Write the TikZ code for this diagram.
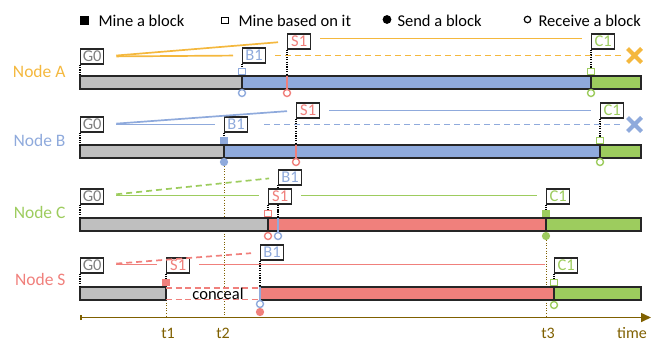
\documentclass[tikz,border=0pt]{standalone}
\usepackage{fontspec}
\setmainfont{Carlito}
\usetikzlibrary{arrows.meta,shapes.misc}
\definecolor{cA}{RGB}{244,184,62}
\definecolor{cB}{RGB}{143,170,220}
\definecolor{cC}{RGB}{157,204,94}
\definecolor{cS}{RGB}{240,128,124}
\definecolor{cG}{RGB}{191,191,191}
\definecolor{cGt}{RGB}{128,128,128}
\definecolor{cT}{RGB}{127,96,0}
\definecolor{edge}{RGB}{38,38,38}
\pgfdeclarelayer{under}
\pgfsetlayers{under,main}
\tikzset{
  blk/.style={draw=edge, line width=1.3pt, fill=white, minimum width=23pt,
    minimum height=15pt, inner sep=0pt, anchor=west, font=\fontsize{16.5}{16.5}\selectfont},
  nlab/.style={anchor=east, font=\fontsize{17.5}{17.5}\selectfont},
  osq/.style={rectangle, draw=#1, fill=white, line width=1.4pt, minimum size=6.5pt, inner sep=0pt},
  fsq/.style={rectangle, draw=#1, fill=#1, line width=1.2pt, minimum size=6.5pt, inner sep=0pt},
  ocirc/.style={circle, draw=#1, fill=white, line width=1.4pt, minimum size=7pt, inner sep=0pt},
  fcirc/.style={circle, draw=#1, fill=#1, line width=1.2pt, minimum size=7pt, inner sep=0pt},
  link/.style={draw=#1, line width=1.7pt, shorten <=9pt, shorten >=9pt},
  glink/.style={link=#1, shorten <=12pt},
  dlink/.style={link=#1, dash pattern=on 6pt off 4pt},
  tie/.style={draw=black, line width=1.2pt, dash pattern=on 1.2pt off 1.2pt},
  recv/.style={draw=#1, line width=2pt},
  barline/.style={draw=edge, line width=1.5pt},
  tline/.style={draw=cT, line width=1pt, dash pattern=on 1pt off 1.6pt},
  xmark/.style={cross out, draw=#1, line width=4pt, minimum size=10pt, inner sep=0pt},
  tlab/.style={text=cT, font=\fontsize{16}{16}\selectfont},
  leg/.style={anchor=west, font=\fontsize{16.5}{16.5}\selectfont},
}
\begin{document}
\begin{tikzpicture}[x=1pt, y=-1pt]
\useasboundingbox (0,0) rectangle (655,341);

% ---------- legend ----------
\node[fsq=black, minimum size=7.5pt] (lg1) at (84.5,20.5) {};
\node[leg] (lt1) at (95,20.5) {Mine a block};
\node[osq=black, minimum size=6.5pt, line width=1.2pt] (lg2) at (225,20.5) {};
\node[leg] (lt2) at (235,20.5) {Mine based on it};
\node[fcirc=black, minimum size=7.5pt] (lg3) at (387,19.5) {};
\node[leg] (lt3) at (394,20.5) {Send a block};
\node[ocirc=black, minimum size=6.5pt, line width=1.2pt] (lg4) at (527.5,19.5) {};
\node[leg] (lt4) at (535,20.5) {Receive a block};

% ---------- Node A ----------
\node[nlab, text=cA] (labA) at (69,71) {Node A};
\fill[cG] (80,76) rectangle (242,89);
\fill[cB] (242,76) rectangle (591,89);
\fill[cC] (591,76) rectangle (641,89);
\draw[barline] (80,76) rectangle (641,89) (242,76) -- (242,89) (591,76) -- (591,89);
\coordinate (a0) at (80,76);
\coordinate (a2) at (287,76);
\node[osq=cB] (a-m1) at (242,71.5) {};
\node[ocirc=cB] (a-r1) at (242,93) {};
\node[ocirc=cS] (a-r2) at (287,93) {};
\draw[recv=cS] (a2) -- (a-r2.north);
\node[osq=cC] (a-m3) at (591,71.5) {};
\node[ocirc=cC] (a-r3) at (591,93) {};
\node[blk, text=cGt] (a-g0) at (80,56.5) {G0};
\node[blk, text=cB] (a-b1) at (242,55.5) {B1};
\node[blk, text=cS] (a-s1) at (287,41.5) {S1};
\node[blk, text=cC] (a-c1) at (591,41.5) {C1};
\node[xmark=cA] (a-x) at (634.5,55.5) {};
\draw[tie] (a-g0.south west) -- (a0);
\draw[tie] (a-b1.south west) -- (a-m1.north);
\draw[tie] (a-s1.south west) -- (a2);
\draw[tie] (a-c1.south west) -- (a-m3.north);
\draw[glink=cA] (a-g0.east) -- (a-b1.west);
\draw[glink=cA] (a-g0.east) -- (a-s1.west);
\draw[link=cA] ([yshift=3pt]a-s1.east) -- ([yshift=3pt]a-c1.west);
\draw[dlink=cA, shorten >=4pt] (a-b1.east) -- (a-x.west);

% ---------- Node B ----------
\node[nlab, text=cB] (labB) at (69,140) {Node B};
\fill[cG] (80,145) rectangle (224,158);
\fill[cB] (224,145) rectangle (600,158);
\fill[cC] (600,145) rectangle (641,158);
\draw[barline] (80,145) rectangle (641,158) (224,145) -- (224,158) (600,145) -- (600,158);
\coordinate (b0) at (80,145);
\coordinate (b2) at (296,145);
\node[fsq=cB] (b-m1) at (224,140.5) {};
\node[fcirc=cB] (b-f1) at (224,162) {};
\node[ocirc=cS] (b-r2) at (296,162) {};
\draw[recv=cS] (b2) -- (b-r2.north);
\node[osq=cC] (b-m3) at (600,140.5) {};
\node[ocirc=cC] (b-r3) at (600,162) {};
\node[blk, text=cGt] (b-g0) at (80,124.5) {G0};
\node[blk, text=cB] (b-b1) at (224,124.5) {B1};
\node[blk, text=cS] (b-s1) at (296,110.5) {S1};
\node[blk, text=cC] (b-c1) at (600,110.5) {C1};
\node[xmark=cB] (b-x) at (634.5,124.5) {};
\draw[tie] (b-g0.south west) -- (b0);
\draw[tie] (b-b1.south west) -- (b-m1.north);
\draw[tie] (b-s1.south west) -- (b2);
\draw[tie] (b-c1.south west) -- (b-m3.north);
\draw[glink=cB] (b-g0.east) -- (b-b1.west);
\draw[glink=cB] (b-g0.east) -- (b-s1.west);
\draw[link=cB] (b-s1.east) -- (b-c1.west);
\draw[dlink=cB, shorten <=16pt, shorten >=4pt] (b-b1.east) -- (b-x.west);

% ---------- Node C ----------
\node[nlab, text=cC] (labC) at (69,212) {Node C};
\fill[cG] (80,218) rectangle (268,231);
\fill[cS] (268,218) rectangle (546,231);
\fill[cC] (546,218) rectangle (641,231);
\draw[barline] (80,218) rectangle (641,231) (268,218) -- (268,231) (546,218) -- (546,231);
\coordinate (c0) at (80,218);
\coordinate (c2) at (278,218);
\node[osq=cS] (c-m1) at (268,213.5) {};
\node[ocirc=cS] (c-r1) at (268,236) {};
\node[ocirc=cB] (c-r2) at (278,236) {};
\draw[recv=cB] (c2) -- (c-r2.north);
\node[fsq=cC] (c-m3) at (546,213.5) {};
\node[fcirc=cC] (c-f3) at (546,236) {};
\begin{pgfonlayer}{under}
  \draw[tie] (278,185) -- (c2);
\end{pgfonlayer}
\node[blk, text=cGt] (c-g0) at (80,196.5) {G0};
\node[blk, text=cB] (c-b1) at (278,177.5) {B1};
\node[blk, text=cS] (c-s1) at (268,196.5) {S1};
\node[blk, text=cC] (c-c1) at (546,196.5) {C1};
\draw[tie] (c-g0.south west) -- (c0);
\draw[tie] (c-s1.south west) -- (c-m1.north);
\draw[tie] (c-s1.south -| c2) -- (c2);
\draw[tie] (c-c1.south west) -- (c-m3.north);
\draw[glink=cC] ([yshift=1pt]c-g0.east) -- ([yshift=1pt]c-s1.west);
\draw[glink=cC, dash pattern=on 6pt off 4pt] ([yshift=1pt]c-g0.east) -- (c-b1.west);
\draw[link=cC] ([yshift=1pt]c-s1.east) -- ([yshift=1pt]c-c1.west);

% ---------- Node S ----------
\node[nlab, text=cS] (labS) at (69,279.5) {Node S};
\fill[cG] (80,287) rectangle (166,300);
\fill[cS] (260,287) rectangle (554,300);
\fill[cC] (554,287) rectangle (641,300);
\draw[barline] (80,287) rectangle (166,300);
\draw[barline] (260,287) rectangle (641,300) (554,287) -- (554,300);
\draw[cS, line width=1.6pt, dash pattern=on 6pt off 3.5pt] (166,288) -- (260,288) (166,299.5) -- (260,299.5);
\node[font=\fontsize{16.5}{16.5}\selectfont] (conceal) at (218,293.5) {conceal};
\coordinate (s0) at (80,287);
\coordinate (s1b) at (166,300);
\coordinate (s2) at (260,287);
\node[fsq=cS] (s-m1) at (166,282.5) {};
\node[ocirc=cB] (s-r2) at (260,304) {};
\draw[recv=cB] (s2) -- (s-r2.north);
\node[fcirc=cS] (s-f2) at (260,312) {};
\node[osq=cC] (s-m3) at (554,282.5) {};
\node[ocirc=cC] (s-r3) at (554,305) {};
\node[blk, text=cGt] (s-g0) at (80,265.5) {G0};
\node[blk, text=cS] (s-s1) at (166,265.5) {S1};
\node[blk, text=cB] (s-b1) at (260,252.5) {B1};
\node[blk, text=cC] (s-c1) at (554,265.5) {C1};
\draw[tie] (s-g0.south west) -- (s0);
\draw[tie] (s-s1.south west) -- (s-m1.north);
\draw[tie] (s-b1.south west) -- (s2);
\draw[tie] (s-c1.south west) -- (s-m3.north);
\draw[glink=cS] ([yshift=1pt]s-g0.east) -- ([yshift=1pt]s-s1.west);
\draw[glink=cS, dash pattern=on 6pt off 4pt] ([yshift=1pt]s-g0.east) -- (s-b1.west);
\draw[link=cS] ([yshift=1pt]s-s1.east) -- ([yshift=1pt]s-c1.west);

% ---------- time axis ----------
\coordinate (ax0) at (80,317.5);
\coordinate (ax1) at (651,317.5);
\draw[cT, line width=1.6pt, {Bar[width=5pt]}-{Triangle[length=10pt, width=9pt]}] (ax0) -- (ax1);
\begin{pgfonlayer}{under}
  \draw[tline] (s1b) -- (s1b |- ax0);
  \draw[tline] (b-f1.south) -- (b-f1.south |- ax0);
  \draw[tline] (c-f3.south) -- (c-f3.south |- ax0);
\end{pgfonlayer}
\node[tlab] (t1) at (168,333) {t1};
\node[tlab] (t2) at (223,333) {t2};
\node[tlab] (t3) at (548,333) {t3};
\node[tlab] (tt) at (632,333) {time};
\end{tikzpicture}
\end{document}
